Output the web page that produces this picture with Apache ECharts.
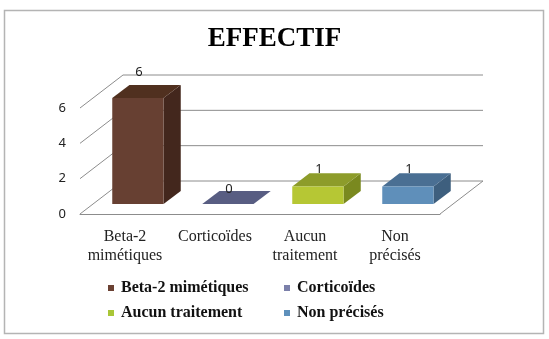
<!DOCTYPE html>
<html>
<head>
<meta charset="utf-8">
<title>EFFECTIF</title>
<script src="https://cdn.jsdelivr.net/npm/echarts@6/dist/echarts.min.js"></script>
<style>
  html, body { margin: 0; padding: 0; background: #fff; }
  #main { width: 549px; height: 339px; }
</style>
</head>
<body>
<div id="main"></div>
<script>
  // données
  var categories = ['Beta-2 mimétiques', 'Corticoïdes', 'Aucun traitement', 'Non précisés'];
  var axisNames = ['Beta-2\nmimétiques', 'Corticoïdes', 'Aucun\ntraitement', 'Non\nprécisés'];
  var effectifs = [6, 0, 1, 1];
  var yTicks = [0, 2, 4, 6];

  // couleurs : légende, face avant, côté, dessus
  var legendColors = ['#6b4133', '#7b80aa', '#a9c637', '#5e90bb'];
  var frontColors = ['#674032', '#7a7fab', '#b6c734', '#5f8fba'];
  var sideColors = ['#43271d', '#4d5276', '#7a891f', '#3e5f7e'];
  var topColors = ['#50301f', '#585d82', '#8d9c2a', '#4a6f93'];

  var DEPTH = [43, -33];  // profondeur du plancher (px)

  // murs du fond + plancher
  function renderWall(params, api) {
    var cs = params.coordSys;
    var v = api.value(1);
    var y = api.coord([0, v])[1];
    var x = cs.x, w = cs.width;
    var pts = [[x, y], [x + DEPTH[0], y + DEPTH[1]], [x + w + DEPTH[0], y + DEPTH[1]]];
    if (v === 0) pts.push([x + w, y]);
    return {
      type: 'polyline',
      shape: { points: pts },
      style: { stroke: '#8c8c8c', lineWidth: 1, fill: null }
    };
  }

  // barre 3D
  function makeBarRenderer(k) {
    return function (params, api) {
      var i = api.value(0), v = api.value(1);
      var base = api.coord([i, 0]);
      var top = api.coord([i, v]);
      var w = api.size([1, 0])[0] * 0.57;
      var ox = DEPTH[0] * 0.3, oy = DEPTH[1] * 0.3;
      var dx = DEPTH[0] * 0.4, dy = DEPTH[1] * 0.4;
      var x0 = base[0] - w / 2 + ox, yb = base[1] + oy, yt = top[1] + oy;
      var x1 = x0 + w;
      var h = yb - yt;
      var children = [
        { type: 'polygon', shape: { points: [[x1, yb], [x1 + dx, yb + dy], [x1 + dx, yt + dy], [x1, yt]] },
          style: { fill: sideColors[k] } },
        { type: 'polygon', shape: { points: [[x0, yt], [x0 + dx, yt + dy], [x1 + dx, yt + dy], [x1, yt]] },
          style: { fill: topColors[k] } }
      ];
      if (h > 0) {
        children.push({ type: 'rect', shape: { x: x0, y: yt, width: w, height: h },
          style: { fill: frontColors[k] } });
      }
      children.push({
        type: 'text',
        x: x0 + w / 2 + 1,
        y: yt - 15 - h * 0.1,
        style: { text: String(v), fill: '#222', fontSize: 13, fontFamily: 'Noto Sans',
                 align: 'center', verticalAlign: 'middle' }
      });
      return { type: 'group', children: children };
    };
  }

  var series = [{
    type: 'custom',
    coordinateSystem: 'cartesian2d',
    data: yTicks.map(function (t) { return [0, t]; }),
    renderItem: renderWall,
    silent: true,
    clip: false,
    z: 1
  }];
  categories.forEach(function (name, k) {
    series.push({
      type: 'custom',
      name: name,
      coordinateSystem: 'cartesian2d',
      data: [[k, effectifs[k]]],
      renderItem: makeBarRenderer(k),
      itemStyle: { color: legendColors[k] },
      silent: true,
      clip: false,
      z: 3
    });
  });

  // légende 2 x 2
  var legendLeft = [108, 284, 108, 284];
  var legendTop = [280, 280, 305, 305];
  var legends = categories.map(function (name, k) {
    return {
      data: [name],
      left: legendLeft[k], top: legendTop[k],
      padding: 0,
      icon: 'rect', itemWidth: 6, itemHeight: 6,
      selectedMode: false,
      textStyle: { fontFamily: 'Liberation Serif', fontWeight: 'bold', fontSize: 16, color: '#111', padding: [0, 0, 0, 2] }
    };
  });

  var chart = echarts.init(document.getElementById('main'));
  chart.setOption({
    animation: false,
    title: {
      text: 'EFFECTIF',
      left: 'center',
      top: 21,
      textStyle: { fontFamily: 'Liberation Serif', fontWeight: 'bold', fontSize: 27, color: '#000' }
    },
    graphic: [{
      type: 'rect',
      shape: { x: 4.5, y: 10.5, width: 539, height: 323 },
      style: { stroke: '#b4b4b4', lineWidth: 1.5, fill: null },
      silent: true
    }],
    legend: legends,
    grid: { left: 80, right: 109, top: 108, bottom: 125 },
    xAxis: {
      type: 'category',
      data: categories,
      axisLine: { show: true, lineStyle: { color: '#8c8c8c', width: 1 } },
      axisTick: { show: false },
      axisLabel: {
        margin: 13,
        interval: 0,
        formatter: function (v, i) { return axisNames[i]; },
        fontFamily: 'Liberation Serif', fontSize: 16, lineHeight: 19, color: '#222'
      }
    },
    yAxis: {
      type: 'value',
      min: 0, max: 6, interval: 2,
      axisLine: { show: false },
      axisTick: { show: false },
      splitLine: { show: false },
      axisLabel: { margin: 14, fontFamily: 'Noto Sans', fontSize: 13, color: '#222' }
    },
    series: series
  });
</script>
</body>
</html>
